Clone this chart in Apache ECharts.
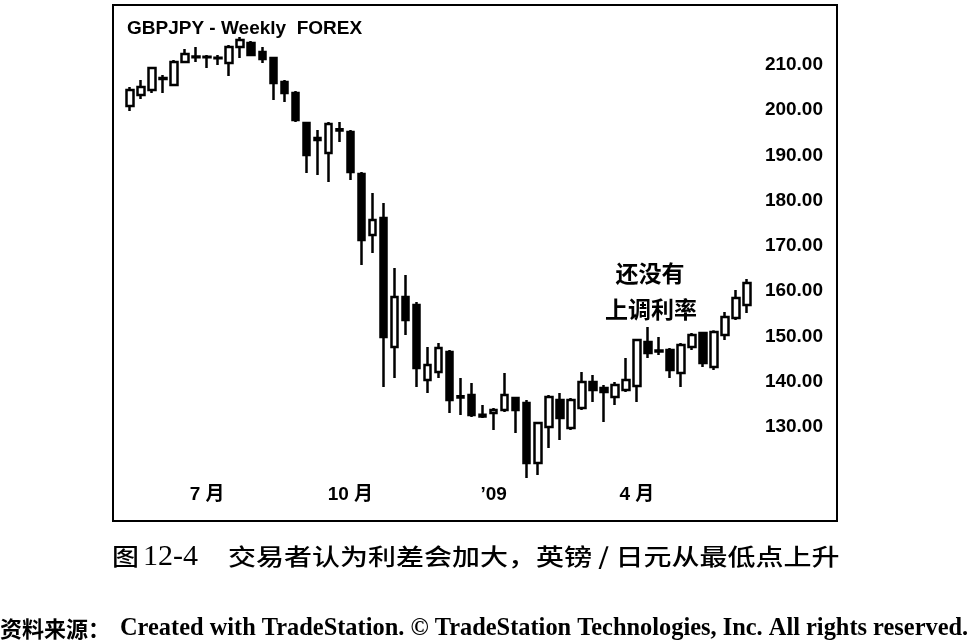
<!DOCTYPE html>
<html>
<head>
<meta charset="utf-8">
<script src="https://cdn.jsdelivr.net/npm/echarts@6/dist/echarts.min.js"></script>
<style>
html,body{margin:0;padding:0;background:#fff;}
#chart{width:970px;height:643px;}
</style>
</head>
<body>
<div id="chart"></div>
<script>
// Weekly GBPJPY candles
const weeks = [
 '2008-05-12','2008-05-19','2008-05-26','2008-06-02','2008-06-09','2008-06-16','2008-06-23','2008-06-30',
 '2008-07-07','2008-07-14','2008-07-21','2008-07-28','2008-08-04','2008-08-11','2008-08-18','2008-08-25',
 '2008-09-01','2008-09-08','2008-09-15','2008-09-22','2008-09-29','2008-10-06','2008-10-13','2008-10-20',
 '2008-10-27','2008-11-03','2008-11-10','2008-11-17','2008-11-24','2008-12-01','2008-12-08','2008-12-15',
 '2008-12-22','2008-12-29','2009-01-05','2009-01-12','2009-01-19','2009-01-26','2009-02-02','2009-02-09',
 '2009-02-16','2009-02-23','2009-03-02','2009-03-09','2009-03-16','2009-03-23','2009-03-30','2009-04-06',
 '2009-04-13','2009-04-20','2009-04-27','2009-05-04','2009-05-11','2009-05-18','2009-05-25','2009-06-01',
 '2009-06-08'
];
const openP = [200.94,203.37,204.48,207.1,205.58,210.66,211.9,211.7,211.6,210.44,213.98,214.86,212.87,211.55,206.24,203.81,
 197.18,193.87,190.55,195.8,195.19,185.91,172.43,176.19,147.68,158.73,156.96,140.39,142.15,146.57,136.8,137.07,
 132.7,133.09,133.76,136.41,135.30,122.04,130.0,135.97,129.78,134.20,139.94,138.62,136.63,138.18,139.06,148.78,
 146.9,147.02,141.93,147.68,150.77,143.26,150.33,154.09,156.96];
const closeP = [204.48,205.14,209.34,206.9,210.66,212.43,211.7,211.8,211.5,213.98,215.52,212.21,211.33,206.02,203.81,197.85,
 190.11,193.43,196.96,195.5,186.35,171.33,175.75,149.89,158.73,153.65,143.04,143.70,147.46,135.97,136.5,132.65,
 132.3,133.76,137.07,133.76,122.04,130.88,136.63,131.99,135.97,139.94,138.18,137.73,139.28,140.39,149.23,146.35,
 146.7,142.60,148.12,150.33,144.14,150.99,154.31,158.51,161.82];
const lowP = [199.83,202.49,203.81,203.81,205.36,210.44,210.66,209.34,210.0,207.57,211.55,212.0,210.44,202.27,201.82,197.40,
 186.13,185.69,184.14,192.98,184.59,165.80,168.45,138.84,140.83,150.33,138.84,137.51,140.83,133.09,132.65,132.21,
 131.99,129.34,133.31,128.67,118.73,119.39,125.36,127.13,129.34,133.76,135.52,131.10,134.86,137.73,135.52,145.25,
 145.91,140.83,138.84,147.02,143.26,142.60,149.23,153.65,155.19];
const highP = [205.14,206.69,209.56,207.79,211.10,213.54,213.98,212.21,212.21,214.42,216.19,215.3,213.98,211.77,206.69,204.25,
 197.40,195.64,197.40,197.40,195.64,186.35,181.71,179.50,165.14,163.59,157.62,147.68,148.56,147.02,140.83,139.72,
 134.86,134.20,141.93,136.63,135.97,131.10,137.07,137.51,136.41,142.15,141.49,139.28,139.94,145.25,149.3,152.10,
 149.89,147.46,148.56,150.77,150.99,151.4,155.41,160.28,162.71];
// Month tick labels (week containing the 1st of the month)
const monthTickWeeks = ['2008-06-30','2008-09-29','2008-12-29','2009-03-30'];
const monthTickTexts = ['7 月','10 月','\u201909','4 月'];
const yTickLabels = [130,140,150,160,170,180,190,200,210];

const ohlc = openP.map((o,i)=>[o, closeP[i], lowP[i], highP[i]]);

const chart = echarts.init(document.getElementById('chart'), null, {renderer:'canvas'});
const gridLeft = 124.5, slot = 11.02;
const gridWidth = slot * weeks.length;
const gridRightEdge = gridLeft + gridWidth;

chart.setOption({
  backgroundColor:'#fff',
  animation:false,
  grid:{left:gridLeft, width:gridWidth, top:19.75, height:497.75, containLabel:false},
  xAxis:{
    type:'category', data:weeks, boundaryGap:true,
    axisLine:{show:false}, axisTick:{show:false}, splitLine:{show:false},
    axisLabel:{
      inside:true, margin:13,
      interval:(idx,val)=>monthTickWeeks.indexOf(val)>=0,
      formatter:(val)=>{const k=monthTickWeeks.indexOf(val);return k>=0?monthTickTexts[k]:'';},
      color:'#000', fontWeight:'bold', fontSize:19,
      fontFamily:'Liberation Sans, Noto Sans CJK SC'
    }
  },
  yAxis:{
    type:'value', min:110, max:220, interval:10, position:'right',
    offset: 831 - gridRightEdge,
    axisLine:{show:false}, axisTick:{show:false}, splitLine:{show:false},
    axisLabel:{
      inside:true, margin:8, color:'#000', fontWeight:'bold', fontSize:19,
      fontFamily:'Liberation Sans',
      formatter:(v)=>yTickLabels.indexOf(v)>=0 ? v.toFixed(2) : ''
    }
  },
  series:[{
    type:'candlestick', data:ohlc, barWidth:7,
    itemStyle:{color:'#fff', color0:'#000', borderColor:'#000', borderColor0:'#000', borderWidth:2.5}
  }],
  graphic:[
    {type:'rect', shape:{x:113,y:5,width:724,height:516}, style:{fill:'none',stroke:'#000',lineWidth:2}},
    {type:'text', x:127, y:29, style:{text:'GBPJPY - Weekly  FOREX', font:'bold 19px "Liberation Sans"', fill:'#000', textAlign:'left', textVerticalAlign:'middle'}},
    {type:'text', x:650, y:273, style:{text:'还没有', font:'bold 23px "Noto Sans CJK SC"', fill:'#000', textAlign:'center', textVerticalAlign:'middle'}},
    {type:'text', x:651, y:309, style:{text:'上调利率', font:'bold 23px "Noto Sans CJK SC"', fill:'#000', textAlign:'center', textVerticalAlign:'middle'}},
    {type:'text', x:112, y:556, scaleY:0.85, style:{text:'图', font:'500 27px "Noto Sans CJK SC"', fill:'#000', textAlign:'left', textVerticalAlign:'middle'}},
    {type:'text', x:143, y:557, style:{text:'12-4', font:'30px "Liberation Serif"', fill:'#000', textAlign:'left', textVerticalAlign:'middle'}},
    {type:'text', x:228, y:556, scaleY:0.83, style:{text:'交易者认为利差会加大，英镑 / 日元从最低点上升', font:'500 28px "Noto Sans CJK SC"', fill:'#000', textAlign:'left', textVerticalAlign:'middle'}},
    {type:'text', x:0, y:629, style:{text:'资料来源：', font:'bold 22px "Noto Sans CJK SC"', fill:'#000', textAlign:'left', textVerticalAlign:'middle'}},
    {type:'text', x:120, y:629, style:{text:'Created with TradeStation. \u00A9 TradeStation Technologies, Inc. All rights reserved.', font:'bold 24.4px "Liberation Serif"', fill:'#000', textAlign:'left', textVerticalAlign:'middle'}}
  ]
});
</script>
</body>
</html>
